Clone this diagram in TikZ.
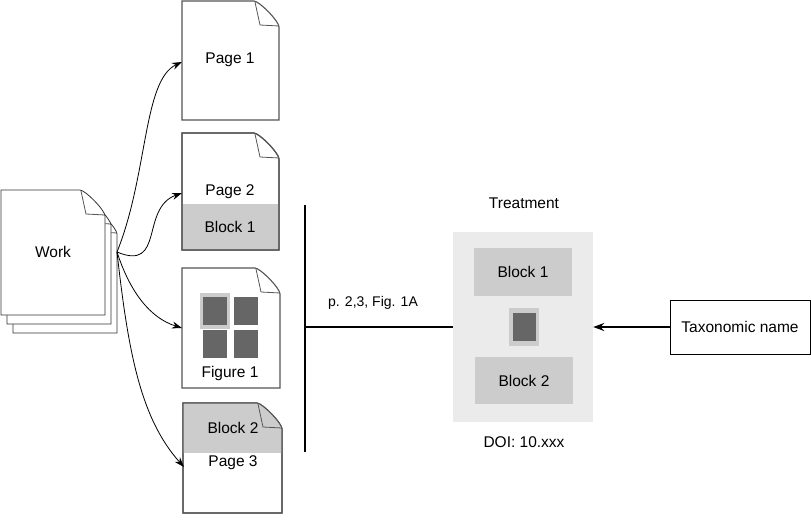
\documentclass[tikz,border=0pt]{standalone}
\usepackage{fontspec}
\setmainfont{Liberation Sans}
\usetikzlibrary{arrows.meta}
\definecolor{band}{HTML}{CCCCCC}
\definecolor{lightbox}{HTML}{EBEBEB}
\definecolor{darksq}{HTML}{666666}
\definecolor{pageline}{HTML}{555555}
\newcommand\docpath[4]{(#1,#2) -- ({#3-25},#2) .. controls ({#3-20},#2) and (#3,{#2+20}) .. (#3,{#2+26}) -- (#3,#4) -- (#1,#4) -- cycle}
\newcommand\docfold[2]{({#1-24},{#2+1}) -- ({#1-19},{#2+24}) -- ({#1},{#2+25})}
\tikzset{
  pageshape/.style={draw=pageline, line width=1.1pt, fill=white},
  workshape/.style={draw=black!80, line width=0.8pt, fill=white},
  foldline/.style={draw=pageline, line width=0.8pt},
  lbl/.style={font=\fontsize{15.5}{18}\selectfont, inner sep=0pt},
  small/.style={font=\fontsize{14}{17}\selectfont, inner sep=0pt},
  conn/.style={line width=0.8pt, -{Stealth[length=10pt,width=7pt]}},
  blockbox/.style={fill=band, draw=none, inner sep=0pt},
  dsq/.style={fill=darksq, draw=none},
}
\begin{document}
\begin{tikzpicture}[x=1pt,y=-1pt]
\useasboundingbox (0,0) rectangle (811,525);
% Work stack
\draw[workshape] \docpath{13}{208}{117}{333};
\draw[foldline] \docfold{117}{208};
\draw[workshape] \docpath{7}{199}{111}{324};
\draw[foldline] \docfold{111}{199};
\draw[workshape] \docpath{1}{190}{105}{315};
\draw[foldline] \docfold{105}{190};
\node[lbl] (work) at (53,252) {Work};
\coordinate (wo) at (117,252);
% Page 1
\draw[pageshape] \docpath{182}{1}{279}{120};
\draw[foldline] \docfold{279}{1};
\node[lbl] (p1) at (230,60) {Page 1};
\coordinate (p1in) at (182,62);
% Page 2
\draw[pageshape] \docpath{182}{133}{279}{250};
\fill[band] (182.6,204) rectangle (278.4,249.4);
\draw[pageshape, fill=none] \docpath{182}{133}{279}{250};
\draw[foldline] \docfold{279}{133};
\node[lbl] (p2) at (230,192) {Page 2};
\node[lbl] (b1a) at (230,227) {Block 1};
\coordinate (p2in) at (182,193);
% Figure 1 page
\draw[pageshape] \docpath{182}{268}{280}{388};
\draw[foldline] \docfold{280}{268};
\fill[band] (200,293) rectangle (230,329);
\fill[dsq] (203,297) rectangle (227,325);
\fill[dsq] (234,297) rectangle (258,325);
\fill[dsq] (203,330) rectangle (227,358);
\fill[dsq] (234,330) rectangle (258,358);
\node[lbl] (fig) at (230,373) {Figure 1};
\coordinate (figin) at (182,328);
% Page 3
\draw[pageshape] \docpath{183}{403}{282}{513};
\begin{scope}
\clip \docpath{183}{403}{282}{513};
\fill[band] (183,403) rectangle (282,453);
\end{scope}
\draw[pageshape, fill=none] \docpath{183}{403}{282}{513};
\draw[foldline] \docfold{282}{403};
\node[lbl] (b2a) at (233,428) {Block 2};
\node[lbl] (p3) at (233,463) {Page 3};
\coordinate (p3in) at (184,467);
% connectors from Work
\draw[conn] (wo) .. controls (148,175) and (143,80) .. (p1in);
\draw[conn] (wo) .. controls (165,272) and (140,208) .. (p2in);
\draw[conn] (wo) .. controls (130,292) and (150,318) .. (figin);
\draw[conn] (wo) .. controls (128,350) and (140,418) .. (p3in);
% bracket line
\coordinate (vt) at (305,205);
\coordinate (vb) at (305,452);
\coordinate (vm) at (305,327);
\draw[line width=1.5pt] (vt) -- (vb);
% Treatment
\node[lbl] (treat) at (524,203) {Treatment};
\node[fill=lightbox, draw=none, minimum width=140pt, minimum height=190pt, inner sep=0pt] (tbox) at (523,327) {};
\node[blockbox, minimum width=98pt, minimum height=48pt, font=\fontsize{15.5}{18}\selectfont] (tb1) at (523,272) {Block 1};
\node[blockbox, minimum width=98pt, minimum height=47pt, font=\fontsize{15.5}{18}\selectfont] (tb2) at (524,380.5) {Block 2};
\node[fill=band, minimum width=30pt, minimum height=38pt, inner sep=0pt] (tsqo) at (524,327) {};
\node[fill=darksq, minimum width=23pt, minimum height=28pt, inner sep=0pt] (tsq) at (524.5,327) {};
\node[lbl] (doi) at (524,442) {DOI: 10.xxx};
\draw[line width=1.5pt] (vm) -- (tbox.west) node[pos=0.46, above=17pt, small] (elbl) {p. 2,3, Fig. 1A};
% Taxonomic name
\node[draw=black, line width=0.9pt, minimum width=140pt, minimum height=54pt, inner sep=0pt, font=\fontsize{15.5}{18}\selectfont] (tax) at (740,327) {Taxonomic name};
\draw[line width=1.5pt, -{Stealth[length=11pt,width=8pt]}] (tax.west) -- (tbox.east);
\end{tikzpicture}
\end{document}
